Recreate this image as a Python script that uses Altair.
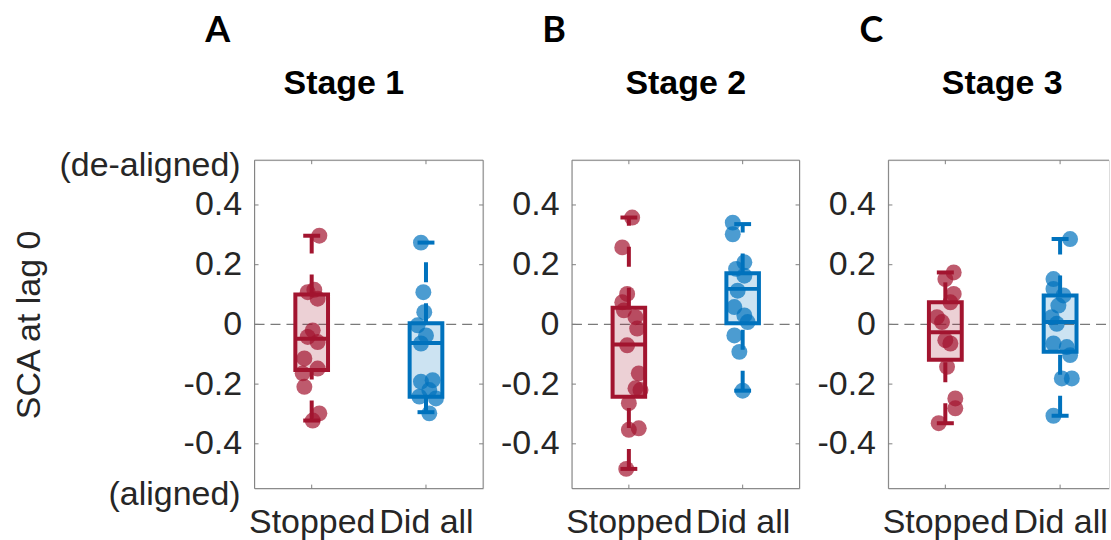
import altair as alt
import pandas as pd

FONT = "Liberation Sans"
GROUPS = ["Stopped", "Did all"]
COLORS = ["#A2142F", "#0072BD"]
STAGES = ["Stage 1", "Stage 2", "Stage 3"]
LETTERS = ["A", "B", "C"]
Y_TICKS = [-0.4, -0.2, 0.0, 0.2, 0.4]
LABEL_COLOR = "#262626"
FRAME_COLOR = "#808080"

# SCA at lag 0 per participant; jitter is the horizontal scatter offset (x units)
s1_stopped = [0.297, 0.116, 0.108, 0.086, -0.02, -0.042, -0.059, -0.114, -0.148, -0.164, -0.209, -0.298, -0.322]
s1_stopped_jit = [0.067, 0.023, -0.035, 0.052, 0.009, -0.035, 0.052, -0.064, 0.052, -0.079, -0.064, 0.067, 0.009]
s1_didall = [0.274, 0.108, 0.041, -0.003, -0.037, -0.064, -0.192, -0.187, -0.22, -0.242, -0.248, -0.298]
s1_didall_jit = [-0.044, -0.023, -0.015, -0.073, 0.0, -0.044, -0.044, 0.058, 0.029, -0.058, 0.087, 0.029]

s2_stopped = [0.358, 0.258, 0.102, 0.074, 0.047, 0.024, -0.014, -0.07, -0.164, -0.214, -0.22, -0.264, -0.353, -0.348, -0.484]
s2_stopped_jit = [0.029, -0.058, -0.015, -0.058, -0.044, 0.058, 0.073, -0.015, 0.087, 0.058, 0.102, 0.0, 0.0, 0.087, -0.023]
s2_didall = [0.341, 0.302, 0.208, 0.186, 0.163, 0.113, 0.058, 0.03, 0.008, -0.037, -0.092, -0.222]
s2_didall_jit = [-0.087, -0.087, 0.015, -0.058, 0.015, -0.044, -0.073, 0.015, 0.044, -0.073, -0.029, 0.0]

s3_stopped = [0.174, 0.152, 0.102, 0.074, 0.024, 0.008, -0.053, -0.064, -0.142, -0.248, -0.281, -0.331]
s3_stopped_jit = [0.073, 0.0, 0.073, 0.044, -0.073, -0.029, 0.0, 0.044, 0.015, 0.087, 0.087, -0.058]
s3_didall = [0.286, 0.152, 0.119, 0.097, 0.063, 0.024, 0.002, -0.064, -0.076, -0.103, -0.181, -0.181, -0.306]
s3_didall_jit = [0.087, -0.058, -0.058, 0.029, -0.015, -0.073, -0.029, -0.058, 0.058, 0.087, 0.015, 0.102, -0.058]

# boxplot summaries: [q1, median, q3, lower whisker, upper whisker]
box_s1 = [[-0.153, -0.048, 0.100, -0.322, 0.297], [-0.242, -0.062, 0.004, -0.294, 0.274]]
box_s2 = [[-0.242, -0.067, 0.056, -0.484, 0.358], [0.004, 0.119, 0.171, -0.222, 0.336]]
box_s3 = [[-0.118, -0.026, 0.074, -0.331, 0.174], [-0.092, 0.008, 0.097, -0.306, 0.286]]

BOX_HALF = 0.143
CAP_HALF = 0.074
HEIGHT = 329
LW = 4

one_row = pd.DataFrame({"k": [0]})


def panel(idx, values, jitters, boxes, width, xdomain, right_edge, title_x, letter_x):
    pts = pd.DataFrame(
        [
            {"group": g, "x": gi + 1 + j, "sca": v}
            for gi, g in enumerate(GROUPS)
            for v, j in zip(values[gi], jitters[gi])
        ]
    )
    bx = pd.DataFrame(
        [
            {
                "group": g, "pos": gi + 1,
                "left": gi + 1 - BOX_HALF, "right": gi + 1 + BOX_HALF,
                "cap_l": gi + 1 - CAP_HALF, "cap_r": gi + 1 + CAP_HALF,
                "q1": b[0], "med": b[1], "q3": b[2], "lo": b[3], "hi": b[4],
            }
            for gi, (g, b) in enumerate(zip(GROUPS, boxes))
        ]
    )

    xs = alt.Scale(domain=xdomain, nice=False, zero=False)
    ys = alt.Scale(domain=[-0.55, 0.55], nice=False, zero=False)
    xaxis = alt.Axis(
        values=[1, 2], labelExpr="datum.value == 1 ? 'Stopped' : 'Did all'",
        ticks=False, tickSize=0, domain=False, grid=False, labelFontSize=34,
        labelPadding=17, labelOverlap=False, labelFlush=False, labelBound=False,
        labelColor=LABEL_COLOR, labelFont=FONT, title=None,
    )
    yaxis = alt.Axis(
        values=Y_TICKS,
        labelExpr="datum.value == 0 ? '0' : (datum.value < 0 ? '-' : '') + format(abs(datum.value), '.1f')",
        ticks=False, tickSize=0, domain=False, grid=False, labelFontSize=34,
        labelPadding=13, labelColor=LABEL_COLOR, labelFont=FONT, title=None,
    )

    def X(f):
        return alt.X(f"{f}:Q", scale=xs, axis=xaxis)

    def Y(f):
        return alt.Y(f"{f}:Q", scale=ys, axis=yaxis)

    color = alt.Color("group:N", scale=alt.Scale(domain=GROUPS, range=COLORS), legend=None)

    zero = alt.Chart(pd.DataFrame({"zero": [0.0]})).mark_rule(
        color="#7a7a7a", strokeWidth=1.2, strokeDash=[10, 6]
    ).encode(x=alt.value(0), x2=alt.value(width), y=Y("zero"))

    box_fill = alt.Chart(bx).mark_rect(fillOpacity=0.2, strokeWidth=0).encode(
        x=X("left"), x2="right", y=Y("q1"), y2="q3", color=color
    )
    dots = alt.Chart(pts).mark_circle(size=255, opacity=0.7).encode(
        x=X("x"), y=Y("sca"), color=color
    )
    whisk_hi = alt.Chart(bx).mark_rule(strokeWidth=LW, strokeDash=[20, 21]).encode(
        x=X("pos"), y=Y("q3"), y2="hi", color=color
    )
    whisk_lo = alt.Chart(bx).mark_rule(strokeWidth=LW, strokeDash=[20, 21]).encode(
        x=X("pos"), y=Y("lo"), y2="q1", color=color
    )
    cap_hi = alt.Chart(bx).mark_rule(strokeWidth=LW).encode(
        x=X("cap_l"), x2="cap_r", y=Y("hi"), color=color
    )
    cap_lo = alt.Chart(bx).mark_rule(strokeWidth=LW).encode(
        x=X("cap_l"), x2="cap_r", y=Y("lo"), color=color
    )
    box_line = alt.Chart(bx).mark_rect(fillOpacity=0, strokeWidth=LW).encode(
        x=X("left"), x2="right", y=Y("q1"), y2="q3", stroke=color
    )
    median = alt.Chart(bx).mark_rule(strokeWidth=LW).encode(
        x=X("left"), x2="right", y=Y("med"), color=color
    )

    # axes frame with inward ticks
    frame = [
        alt.Chart(one_row).mark_rule(color=FRAME_COLOR, strokeWidth=1).encode(
            x=alt.value(0), x2=alt.value(width), y=alt.value(0)),
        alt.Chart(one_row).mark_rule(color=FRAME_COLOR, strokeWidth=1).encode(
            x=alt.value(0), x2=alt.value(width), y=alt.value(HEIGHT)),
        alt.Chart(one_row).mark_rule(color=FRAME_COLOR, strokeWidth=1).encode(
            x=alt.value(0), y=alt.value(0), y2=alt.value(HEIGHT)),
    ]
    if right_edge:
        frame.append(alt.Chart(one_row).mark_rule(color=FRAME_COLOR, strokeWidth=1).encode(
            x=alt.value(width), y=alt.value(0), y2=alt.value(HEIGHT)))
    yt = pd.DataFrame({"t": Y_TICKS})
    xt = pd.DataFrame({"t": [1, 2]})
    ticks = [
        alt.Chart(yt).mark_rule(color=FRAME_COLOR).encode(x=alt.value(0), x2=alt.value(4), y=Y("t")),
        alt.Chart(xt).mark_rule(color=FRAME_COLOR).encode(x=X("t"), y=alt.value(0), y2=alt.value(4)),
        alt.Chart(xt).mark_rule(color=FRAME_COLOR).encode(x=X("t"), y=alt.value(HEIGHT - 4), y2=alt.value(HEIGHT)),
    ]
    if right_edge:
        ticks.append(alt.Chart(yt).mark_rule(color=FRAME_COLOR).encode(
            x=alt.value(width - 4), x2=alt.value(width), y=Y("t")))

    title = alt.Chart(one_row).mark_text(
        text=STAGES[idx], font=FONT, fontSize=34, fontWeight="bold", color="black",
        align="center", baseline="alphabetic",
    ).encode(x=alt.value(title_x), y=alt.value(-66))
    letter = alt.Chart(one_row).mark_text(
        text=LETTERS[idx], font="Lato", fontSize=36, fontWeight="bold", color="black",
        align="center", baseline="alphabetic",
    ).encode(x=alt.value(letter_x), y=alt.value(-118))

    layers = [zero, box_fill, dots, whisk_hi, whisk_lo, cap_hi, cap_lo, box_line, median] + frame + ticks + [title, letter]

    if idx == 0:
        ytitle = alt.Chart(one_row).mark_text(
            text="SCA at lag 0", font=FONT, fontSize=34, color=LABEL_COLOR,
            angle=270, align="center", baseline="middle",
        ).encode(x=alt.value(-225), y=alt.value(165))
        top_note = alt.Chart(one_row).mark_text(
            text="(de-aligned)", font=FONT, fontSize=34, color=LABEL_COLOR,
            align="right", baseline="middle",
        ).encode(x=alt.value(-14), y=alt.value(6))
        bottom_note = alt.Chart(one_row).mark_text(
            text="(aligned)", font=FONT, fontSize=34, color=LABEL_COLOR,
            align="right", baseline="middle",
        ).encode(x=alt.value(-14), y=alt.value(335))
        layers += [ytitle, top_note, bottom_note]

    return alt.layer(*layers).properties(width=width, height=HEIGHT)


pa = panel(0, [s1_stopped, s1_didall], [s1_stopped_jit, s1_didall_jit], box_s1,
           229, [0.5, 2.5], True, 89.5, -37)
pb = panel(1, [s2_stopped, s2_didall], [s2_stopped_jit, s2_didall_jit], box_s2,
           228, [0.5, 2.5], True, 114, -18)
pc = panel(2, [s3_stopped, s3_didall], [s3_stopped_jit, s3_didall_jit], box_s3,
           221, [0.504, 2.426], False, 114, -17)

chart = (
    alt.hconcat(pa, pb, pc, spacing=14)
    .properties(padding={"left": 12, "top": 12, "right": 0, "bottom": 0})
    .configure_view(stroke=None)
    .configure(font=FONT)
)

chart.save("out.html", embed_options={"renderer": "svg", "actions": False})
